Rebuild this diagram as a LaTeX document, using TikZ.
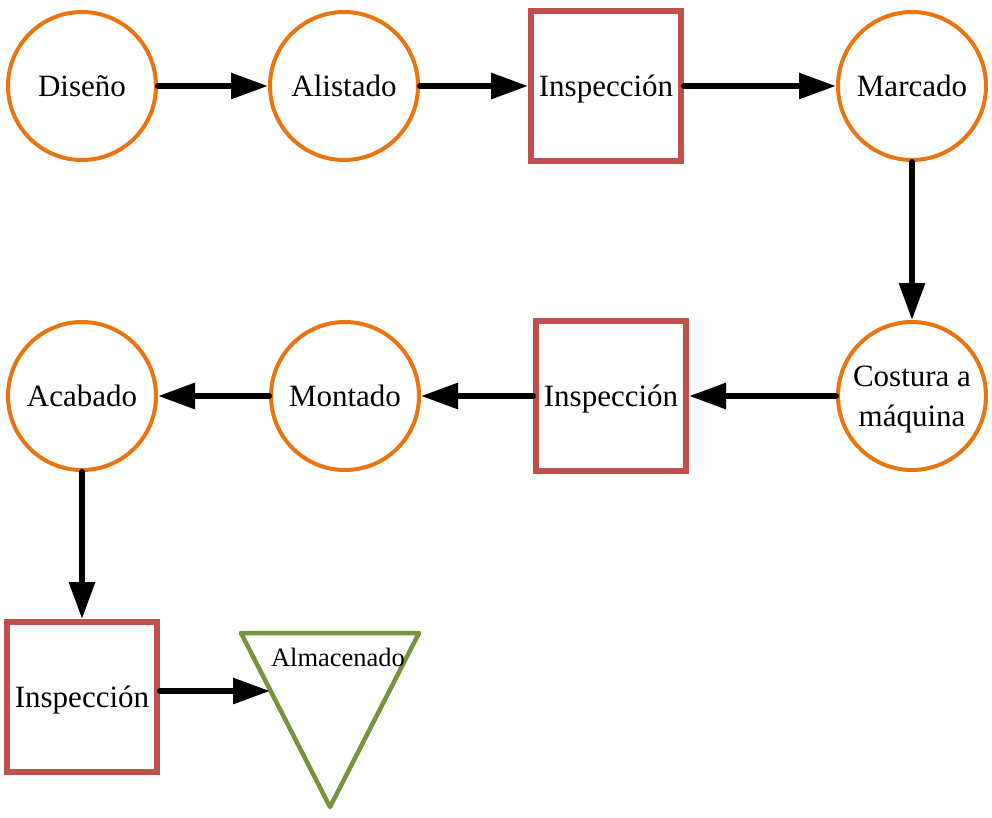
\documentclass[tikz,border=0pt]{standalone}
\usepackage{fontspec}
\setmainfont{Liberation Serif}
\usetikzlibrary{arrows.meta}
\definecolor{orng}{RGB}{233,116,16}
\definecolor{rd}{RGB}{192,80,77}
\definecolor{grn}{RGB}{119,147,60}
\begin{document}
\begin{tikzpicture}[x=1pt,y=-1pt,
  proc/.style={circle,draw=orng,line width=4pt,fill=white,minimum size=148pt,inner sep=0pt,align=center,font=\fontsize{31}{40}\selectfont},
  insp/.style={rectangle,draw=rd,line width=6pt,fill=white,minimum size=150pt,inner sep=0pt,text depth=0pt,font=\fontsize{31}{40}\selectfont},
  store/.style={draw=grn,line width=4.5pt,line join=round,fill=white},
  flow/.style={line width=6pt,line cap=round,-{Triangle[length=37pt,width=25pt]}}]
\useasboundingbox (0,0) rectangle (992,817);
\node[proc] (dis) at (82,86) {Diseño};
\node[proc] (ali) at (344,86) {Alistado};
\node[insp] (in1) at (606,86) {Inspección};
\node[proc] (mar) at (912,86) {Marcado};
\node[proc,text depth=0pt] (cos) at (912,396) {Costura a\\máquina};
\node[insp] (in2) at (611,396) {Inspección};
\node[proc] (mon) at (345,396) {Montado};
\node[proc] (aca) at (82,396) {Acabado};
\node[insp] (in3) at (82,697) {Inspección};
\coordinate (t1) at (241,633);
\coordinate (t2) at (419,633);
\coordinate (t3) at (330,807);
\draw[store] (t1) -- (t2) -- (t3) -- cycle;
\node[font=\fontsize{26.5}{30}\selectfont,inner sep=0pt] (alm) at (338,657) {Almacenado};
\coordinate (almin) at (270,691);
\draw[flow] (dis.east) -- (ali.west);
\draw[flow] (ali.east) -- (in1.west);
\draw[flow] (in1.east) -- (mar.west);
\draw[flow] (mar.south) -- (cos.north);
\draw[flow] (cos.west) -- (in2.east);
\draw[flow] (in2.west) -- (mon.east);
\draw[flow] (mon.west) -- (aca.east);
\draw[flow] (aca.south) -- (in3.north);
\draw[flow] (in3.east |- almin) -- (almin);
\end{tikzpicture}
\end{document}
